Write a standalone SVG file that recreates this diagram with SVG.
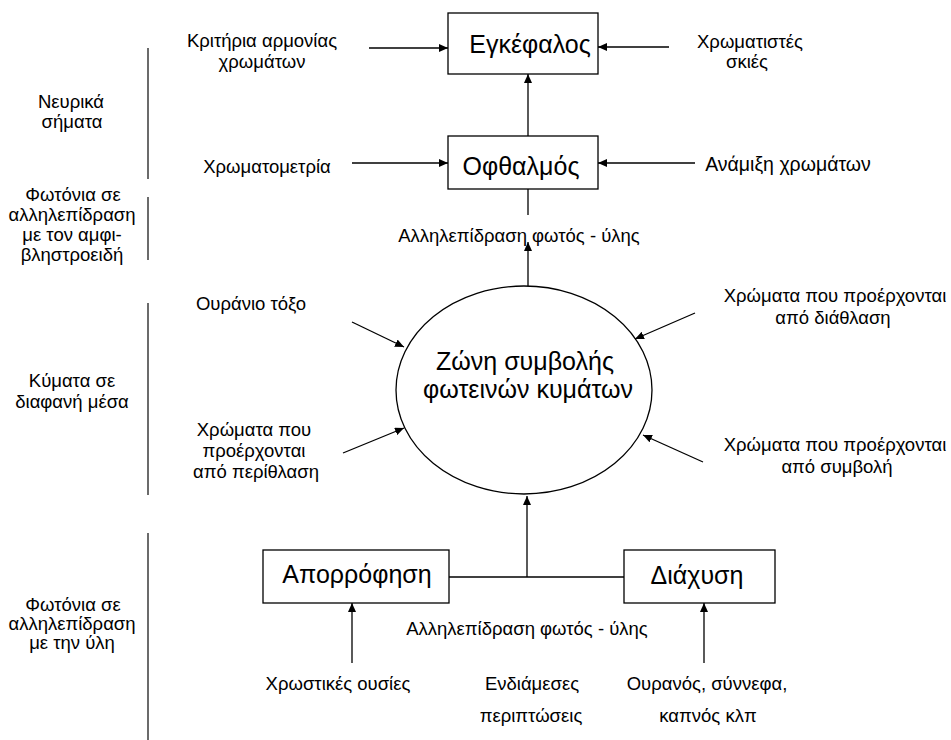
<svg xmlns="http://www.w3.org/2000/svg" width="951" height="740" viewBox="0 0 951 740">
  <defs>
    <marker id="arrow" viewBox="0 0 9 8" refX="9" refY="4" markerWidth="9" markerHeight="8" markerUnits="userSpaceOnUse" orient="auto">
      <path d="M0,0 L9,4 L0,8 z" fill="#000"/>
    </marker>
    <style>
      text { font-family: "Liberation Sans", Arial, sans-serif; fill: #000; }
      .lbl { font-size: 18.5px; text-anchor: middle; }
      .big { font-size: 25px; text-anchor: middle; }
      .box { fill: #fff; stroke: #000; stroke-width: 1.3; }
      .con { fill: none; stroke: #000; stroke-width: 1.3; }
      .arr { fill: none; stroke: #000; stroke-width: 1.3; marker-end: url(#arrow); }
      .sep { stroke: #3a3a3a; stroke-width: 1.5; }
    </style>
  </defs>
  <rect width="951" height="740" fill="#fff"/>

  <!-- level separators on the left -->
  <g id="separators">
    <line class="sep" x1="148" y1="48" x2="148" y2="179"/>
    <line class="sep" x1="148" y1="197" x2="148" y2="260"/>
    <line class="sep" x1="148" y1="303" x2="148" y2="495"/>
    <line class="sep" x1="148" y1="533" x2="148" y2="740"/>
  </g>

  <!-- level captions -->
  <g id="level-captions">
    <text class="lbl" x="71" y="108">Νευρικά</text>
    <text class="lbl" x="72" y="128">σήματα</text>
    <text class="lbl" x="73" y="201">Φωτόνια σε</text>
    <text class="lbl" x="72" y="221">αλληλεπίδραση</text>
    <text class="lbl" x="72" y="241">με τον αμφι-</text>
    <text class="lbl" x="72" y="261">βληστροειδή</text>
    <text class="lbl" x="72" y="387">Κύματα σε</text>
    <text class="lbl" x="72" y="408">διαφανή μέσα</text>
    <text class="lbl" x="73" y="611">Φωτόνια σε</text>
    <text class="lbl" x="72" y="630">αλληλεπίδραση</text>
    <text class="lbl" x="72" y="649">με την ύλη</text>
  </g>

  <!-- nodes -->
  <g id="brain">
    <rect class="box" x="448" y="13" width="150" height="61"/>
    <text class="big" x="530" y="53">Εγκέφαλος</text>
  </g>
  <g id="eye">
    <rect class="box" x="448" y="136" width="150" height="53"/>
    <text class="big" x="521" y="175">Οφθαλμός</text>
  </g>
  <g id="interference-zone">
    <ellipse cx="524" cy="390" rx="128" ry="104" fill="#fff" stroke="#000" stroke-width="1.3"/>
    <text class="big" x="525" y="370">Ζώνη συμβολής</text>
    <text class="big" x="528" y="398">φωτεινών κυμάτων</text>
  </g>
  <g id="absorption">
    <rect class="box" x="263" y="550" width="186" height="53"/>
    <text class="big" x="357" y="583">Απορρόφηση</text>
  </g>
  <g id="scattering">
    <rect class="box" x="624" y="550" width="151" height="53"/>
    <text class="big" x="697" y="584">Διάχυση</text>
  </g>

  <!-- source labels -->
  <g id="harmony-criteria">
    <text class="lbl" x="262" y="47">Κριτήρια αρμονίας</text>
    <text class="lbl" x="262" y="68">χρωμάτων</text>
  </g>
  <g id="coloured-shadows">
    <text class="lbl" x="750" y="48">Χρωματιστές</text>
    <text class="lbl" x="747" y="68">σκιές</text>
  </g>
  <g id="colorimetry">
    <text class="lbl" x="267" y="173">Χρωματομετρία</text>
  </g>
  <g id="colour-mixing">
    <text class="lbl" x="788" y="171" style="font-size:19.5px">Ανάμιξη χρωμάτων</text>
  </g>
  <g id="eye-interaction">
    <text class="lbl" x="519" y="242">Αλληλεπίδραση φωτός - ύλης</text>
  </g>
  <g id="rainbow">
    <text class="lbl" x="251" y="310">Ουράνιο τόξο</text>
  </g>
  <g id="diffraction">
    <text class="lbl" x="254" y="436">Χρώματα που</text>
    <text class="lbl" x="254" y="457">προέρχονται</text>
    <text class="lbl" x="256" y="478">από περίθλαση</text>
  </g>
  <g id="refraction">
    <text class="lbl" x="835" y="302">Χρώματα που προέρχονται</text>
    <text class="lbl" x="833" y="324">από διάθλαση</text>
  </g>
  <g id="interference">
    <text class="lbl" x="835" y="451">Χρώματα που προέρχονται</text>
    <text class="lbl" x="837" y="473">από συμβολή</text>
  </g>
  <g id="matter-interaction">
    <text class="lbl" x="527" y="635">Αλληλεπίδραση φωτός - ύλης</text>
  </g>
  <g id="pigments">
    <text class="lbl" x="338" y="690">Χρωστικές ουσίες</text>
  </g>
  <g id="intermediate">
    <text class="lbl" x="532" y="690">Ενδιάμεσες</text>
    <text class="lbl" x="531" y="722">περιπτώσεις</text>
  </g>
  <g id="sky-clouds">
    <text class="lbl" x="707" y="690">Ουρανός, σύννεφα,</text>
    <text class="lbl" x="708" y="722">καπνός κλπ</text>
  </g>

  <!-- connectors -->
  <g id="connectors">
    <line class="arr" x1="369" y1="48" x2="448" y2="48"/>
    <line class="arr" x1="669" y1="47" x2="598" y2="47"/>
    <line class="arr" x1="528" y1="136" x2="528" y2="74"/>
    <line class="arr" x1="352" y1="163" x2="448" y2="163"/>
    <line class="arr" x1="695" y1="163" x2="598" y2="163"/>
    <line class="con" x1="528" y1="189" x2="528" y2="215"/>
    <line class="arr" x1="528" y1="286" x2="528" y2="242"/>
    <line class="arr" x1="352" y1="322" x2="404" y2="347"/>
    <line class="arr" x1="343" y1="453" x2="404" y2="428"/>
    <line class="arr" x1="695" y1="313" x2="635" y2="339"/>
    <line class="arr" x1="703" y1="462" x2="643" y2="435"/>
    <line class="con" x1="449" y1="577" x2="624" y2="577"/>
    <line class="arr" x1="527" y1="577" x2="527" y2="496"/>
    <line class="arr" x1="352" y1="663" x2="352" y2="603"/>
    <line class="arr" x1="704" y1="663" x2="704" y2="603"/>
  </g>
</svg>
